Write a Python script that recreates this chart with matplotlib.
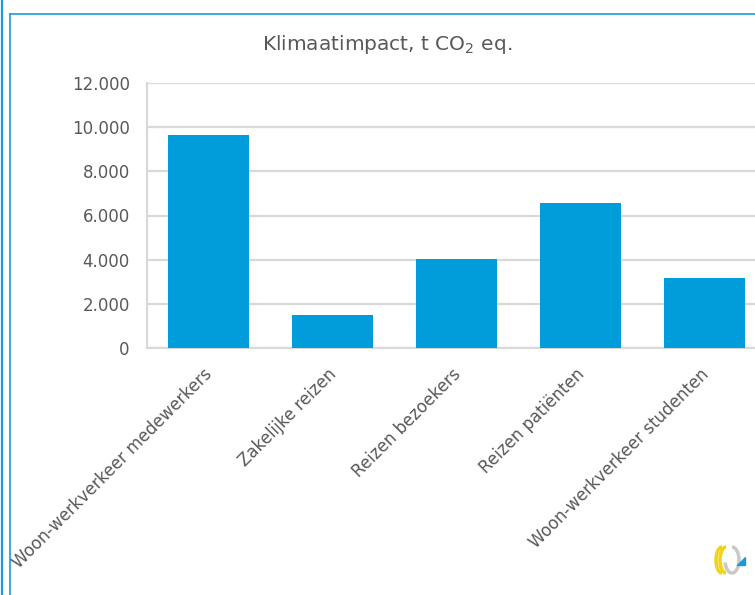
import matplotlib
matplotlib.use('Agg')
import matplotlib.pyplot as plt
from matplotlib.lines import Line2D
from matplotlib.patches import Arc, Polygon
from matplotlib.ticker import FuncFormatter
from matplotlib.transforms import ScaledTranslation

# Klimaatimpact per categorie (t CO2 eq.)
categories = ['Woon-werkverkeer medewerkers', 'Zakelijke reizen', 'Reizen bezoekers',
              'Reizen patiënten', 'Woon-werkverkeer studenten']
values = [9650, 1500, 4030, 6570, 3170]
yticks = [0, 2000, 4000, 6000, 8000, 10000, 12000]

bar_color = '#009DDA'
text_color = '#595959'
grid_color = '#D9D9D9'
frame_color = '#1A9BD7'

W, H = 755, 595
fig = plt.figure(figsize=(W / 100, H / 100), dpi=100)
fig.patch.set_facecolor('white')

# plot area loopt door tot voorbij de rechterrand
ax = fig.add_axes([146.5 / W, (H - 348) / H, 620 / W, 265 / H])
x = range(len(categories))
ax.bar(x, values, width=0.66, color=bar_color, zorder=3)
ax.set_xlim(-0.5, len(categories) - 0.5)
ax.set_ylim(0, 12000)
ax.set_yticks(yticks)
ax.yaxis.set_major_formatter(FuncFormatter(lambda v, p: f'{int(v):,}'.replace(',', '.')))
ax.grid(axis='y', color=grid_color, linewidth=1.6, zorder=0)
for side in ['top', 'right']:
    ax.spines[side].set_visible(False)
for side in ['left', 'bottom']:
    ax.spines[side].set_color(grid_color)
    ax.spines[side].set_linewidth(1.6)
ax.tick_params(axis='y', length=0, pad=12, labelsize=12, labelcolor=text_color)
ax.tick_params(axis='x', length=0, pad=11, labelsize=12, labelcolor=text_color)
ax.set_xticks(list(x))
ax.set_xticklabels(categories, rotation=45, ha='right', va='top',
                   rotation_mode='anchor')
shift = ScaledTranslation(-5 / 100, -2 / 100, fig.dpi_scale_trans)
for lbl in ax.get_xticklabels():
    lbl.set_transform(lbl.get_transform() + shift)

fig.text(387 / W, 1 - 45 / H, r'Klimaatimpact, t CO$_2$ eq.', ha='center', va='center',
         fontsize=14.5, color=text_color)

# blauwe kaderlijnen
fig.add_artist(Line2D([2 / W, 2 / W], [0, 1], color=frame_color, linewidth=1.6))
fig.add_artist(Line2D([9.5 / W, 9.5 / W], [0, 1 - 13.5 / H], color=frame_color, linewidth=1.2))
fig.add_artist(Line2D([9.5 / W, 1], [1 - 13.5 / H, 1 - 13.5 / H], color=frame_color, linewidth=1.2))

# klein logo rechtsonder
lax = fig.add_axes([705 / W, (H - 580) / H, 45 / W, 40 / H])
lax.set_xlim(0, 45)
lax.set_ylim(0, 40)
lax.axis('off')
lax.add_patch(Arc((17, 20), 12, 26, theta1=90, theta2=270, color='#F2D21B', linewidth=2.5))
lax.add_patch(Arc((21, 20), 12, 26, theta1=90, theta2=270, color='#F2D21B', linewidth=2.5))
lax.add_patch(Arc((27, 20), 14, 26, theta1=200, theta2=90, color='#C8C8C8', linewidth=2.5))
lax.add_patch(Polygon([[32, 15], [40, 15], [40, 23]], closed=True, color='#1A9BD7'))

fig.savefig('out.png', dpi=100)
